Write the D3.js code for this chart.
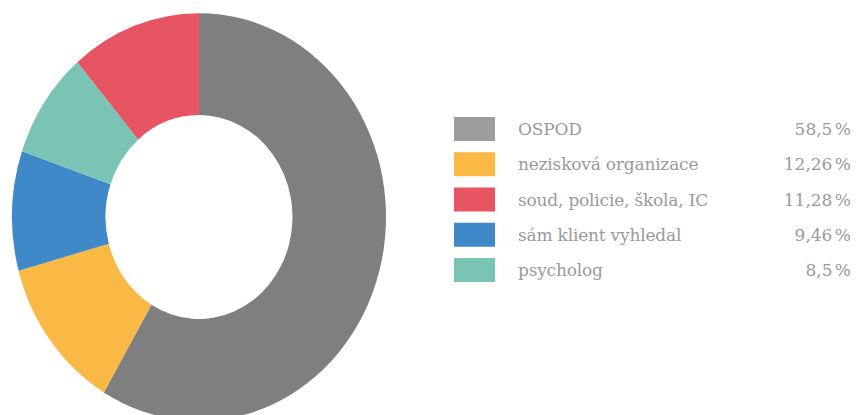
<!DOCTYPE html>
<html>
<head>
<meta charset="utf-8">
<script src="https://cdn.jsdelivr.net/npm/d3@7"></script>
<style>
  body { margin: 0; background: #fff; }
  svg { display: block; }
  text { font-family: "DejaVu Serif", serif; }
</style>
</head>
<body>
<script>
// legend order
let labels = ['OSPOD', 'nezisková organizace', 'soud, policie, škola, IC', 'sám klient vyhledal', 'psycholog']
let values = [58.5, 12.26, 11.28, 9.46, 8.5]
let valueLabels = ['58,5 %', '12,26 %', '11,28 %', '9,46 %', '8,5 %']
let colors = ['#7f7f7f', '#f9b944', '#e85562', '#3f89c9', '#79c4b4']
let legendColors = ['#9d9d9d', '#f9b944', '#e85562', '#3f89c9', '#79c4b4']
// order of slices clockwise from the top
let sliceOrder = ['OSPOD', 'nezisková organizace', 'sám klient vyhledal', 'psycholog', 'soud, policie, škola, IC']

let width = 856
let height = 415

let svg = d3.select('body').append('svg')
  .attr('width', width)
  .attr('height', height)

let data = labels.map((d, i) => ({ label: d, value: values[i], color: colors[i] }))
let colorScale = d3.scaleOrdinal().domain(labels).range(colors)

let pie = d3.pie()
  .value(d => d.value)
  .sort((a, b) => sliceOrder.indexOf(a.label) - sliceOrder.indexOf(b.label))

let arc = d3.arc().innerRadius(93.5).outerRadius(187)

// the donut is slightly stretched vertically
let g = svg.append('g')
  .attr('transform', 'translate(199,217) scale(1,1.09)')

g.selectAll('path')
  .data(pie(data))
  .enter()
  .append('path')
  .attr('d', arc)
  .attr('fill', d => colorScale(d.data.label))

// legend
let yScale = d3.scalePoint().domain(labels).range([129, 270])

let legend = svg.append('g')
  .selectAll('g')
  .data(labels)
  .enter()
  .append('g')
  .attr('transform', d => `translate(0,${yScale(d)})`)

legend.append('rect')
  .attr('x', 454)
  .attr('y', -12)
  .attr('width', 41)
  .attr('height', 24)
  .attr('fill', (d, i) => legendColors[i])

legend.append('text')
  .attr('x', 518)
  .attr('y', 6)
  .attr('font-size', 17)
  .attr('letter-spacing', -0.2)
  .attr('fill', '#9a9a9a')
  .text(d => d)

legend.append('text')
  .attr('x', 851)
  .attr('y', 6)
  .attr('font-size', 17)
  .attr('word-spacing', -3)
  .attr('text-anchor', 'end')
  .attr('fill', '#9a9a9a')
  .text((d, i) => valueLabels[i])
</script>
</body>
</html>
